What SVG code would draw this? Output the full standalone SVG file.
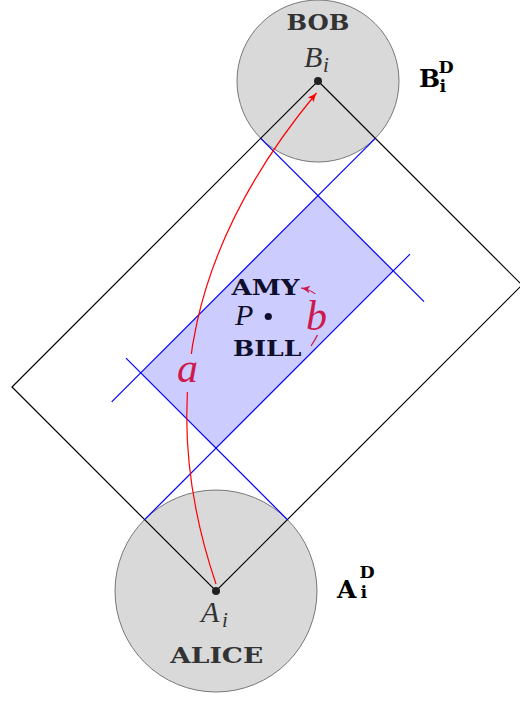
<svg xmlns="http://www.w3.org/2000/svg" width="520" height="702" viewBox="0 0 520 702">
<style>
.circ{fill:#d9d9d9;stroke:#777;stroke-width:1}
.blk{fill:none;stroke:#000;stroke-width:1.2;stroke-linejoin:miter}
.blu{fill:none;stroke:#00f;stroke-width:1.2}
.bold{font-family:"DejaVu Serif",serif;font-weight:bold}
.math{font-family:"Liberation Serif","Times New Roman",serif;font-style:italic}
.grey{fill:#333}
.navy{fill:#0f0f2d}
.crim{fill:#cc1a4d}
.lblbg{fill:#ccccff;stroke:none}
</style>
<defs>
<marker id="arrRed" viewBox="-10 -5 12 10" refX="0" refY="0" markerWidth="12" markerHeight="10" markerUnits="userSpaceOnUse" orient="auto">
<path d="M0,0 Q-4,-1 -9,-3.8 L-7,0 L-9,3.8 Q-4,1 0,0 z" fill="#f00"/>
</marker>
<marker id="arrCrim" viewBox="-10 -5 12 10" refX="0" refY="0" markerWidth="12" markerHeight="10" markerUnits="userSpaceOnUse" orient="auto">
<path d="M0,0 Q-4,-1 -9,-3.8 L-7,0 L-9,3.8 Q-4,1 0,0 z" fill="#cc1a4d"/>
</marker>
</defs>

<g id="bob">
<circle class="circ" cx="318" cy="81" r="81"/>
<text class="bold grey" x="318" y="29.5" font-size="22" text-anchor="middle" textLength="63" lengthAdjust="spacingAndGlyphs">BOB</text>
<text class="math grey" x="304" y="67" font-size="30">B</text>
<text class="math grey" x="323" y="71.5" font-size="21">i</text>
</g>

<g id="alice">
<circle class="circ" cx="216" cy="591" r="101"/>
<text class="math grey" x="201" y="621.7" font-size="30">A</text>
<text class="math grey" x="222" y="626.5" font-size="21">i</text>
<text class="bold grey" x="216.7" y="662.5" font-size="22" text-anchor="middle" textLength="93" lengthAdjust="spacingAndGlyphs">ALICE</text>
</g>

<g id="region">
<polygon points="318,195.6 393.3,270.9 216,448.2 140.7,372.9" fill="#ccccff" stroke="none"/>
</g>

<g id="connectors">
<polygon class="blk" points="318,81 522,285 216,591 12,387"/>
<line class="blu" x1="260.7" y1="138.3" x2="424" y2="301.6"/>
<line class="blu" x1="375.3" y1="138.3" x2="111.7" y2="401.9"/>
<line class="blu" x1="410" y1="254.2" x2="144.6" y2="519.6"/>
<line class="blu" x1="126" y1="358.2" x2="287.4" y2="519.6"/>
<path d="M216,584 C152,395 196,238 316.5,93" fill="none" stroke="#f00" stroke-width="1.2" marker-end="url(#arrRed)"/>
<path d="M311,346 C330,318 326,292 301,288" fill="none" stroke="#cc1a4d" stroke-width="1.2" marker-end="url(#arrCrim)"/>
</g>

<g id="label-a">
<rect class="lblbg" x="175" y="354" width="27" height="38"/>
<text class="math crim" x="177" y="382" font-size="42">a</text>
</g>

<g id="label-b">
<rect class="lblbg" x="305" y="294" width="21" height="41"/>
<text class="math crim" x="306" y="330" font-size="42">b</text>
</g>

<g id="Bi-dot">
<circle cx="318" cy="81" r="4" fill="#222"/>
</g>
<g id="Ai-dot">
<circle cx="216" cy="591" r="4" fill="#222"/>
</g>

<g id="P">
<text class="bold navy" x="231.5" y="295" font-size="22" textLength="68" lengthAdjust="spacingAndGlyphs">AMY</text>
<text class="math navy" x="235" y="325" font-size="30">P</text>
<circle cx="268.3" cy="316.5" r="3.6" fill="#0f0f2d"/>
<text class="bold navy" x="233" y="356" font-size="22" textLength="68.5" lengthAdjust="spacingAndGlyphs">BILL</text>
</g>

<g id="BiD">
<text class="bold" x="419" y="87" font-size="25" fill="#000">B</text>
<text class="bold" x="438.5" y="73" font-size="17.5" fill="#000">D</text>
<text class="bold" x="439.5" y="91.7" font-size="17.5" fill="#000">i</text>
</g>

<g id="AiD">
<text class="bold" x="337" y="598" font-size="25" fill="#000">A</text>
<text class="bold" x="359.5" y="577.5" font-size="17.5" fill="#000">D</text>
<text class="bold" x="360.5" y="598.3" font-size="17.5" fill="#000">i</text>
</g>
</svg>
